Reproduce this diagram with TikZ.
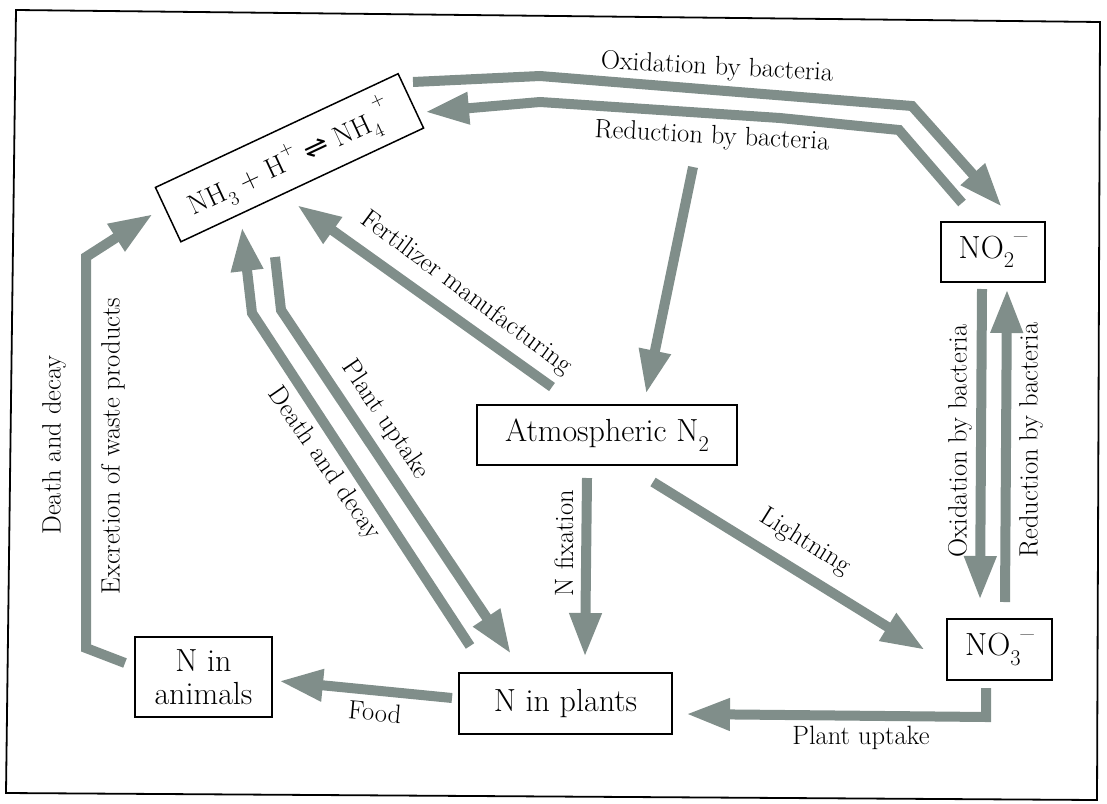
\documentclass[tikz,border=0pt]{standalone}
\usepackage{fontspec}
\newfontfamily\symfont{DejaVu Sans}
\usetikzlibrary{arrows.meta}
\definecolor{arrowc}{RGB}{128,142,138}
\newcommand{\chsub}[1]{\raisebox{-0.3em}{\scalebox{0.7}{#1}}}
\newcommand{\chsup}[1]{\raisebox{0.55em}{\scalebox{0.7}{#1}}}
\newcommand{\chminus}{\raisebox{0.42em}{\scalebox{0.9}{\textendash}}}
\tikzset{
  flow/.style={draw=arrowc, line width=10pt, -{Triangle[length=44pt,width=30pt]}, line join=miter},
  box/.style={draw=black, line width=1.5pt, inner sep=0pt, font=\fontsize{32}{33}\selectfont, align=center},
  lab/.style={font=\fontsize{26.5}{28}\selectfont, inner sep=0pt},
}
\begin{document}
\begin{tikzpicture}[x=1pt,y=-1pt]
\useasboundingbox (0,0) rectangle (1107,803);
% frame
\coordinate (f1) at (16,10);
\coordinate (f2) at (1100,22);
\coordinate (f3) at (1097,800);
\coordinate (f4) at (6,793);
\draw[line width=1.8pt] (f1) -- (f2) -- (f3) -- (f4) -- cycle;

% boxes
\node[box, minimum width=268pt, minimum height=60pt, rotate=25.1, font=\fontsize{28}{29}\selectfont] (nh) at (289.5,157.75) {NH\chsub{3} + H\chsup{+} \raisebox{0.05em}{\symfont\scalebox{1.05}[0.9]{⇌}} NH\chsub{4}\raisebox{0.75em}{\scalebox{0.7}{+}}};
\node[box, minimum width=104pt, minimum height=60pt] (no2) at (993,252) {NO\chsub{2}\chminus};
\node[box, minimum width=105pt, minimum height=61pt] (no3) at (999.5,649.5) {NO\chsub{3}\chminus};
\node[box, minimum width=260pt, minimum height=60pt] (atm) at (607,435) {Atmospheric N\chsub{2}};
\node[box, minimum width=137pt, minimum height=80pt] (ani) at (203.5,677) {N in\\animals};
\node[box, minimum width=213pt, minimum height=61pt] (pla) at (565.5,703.5) {N in plants};

% connector points
\coordinate (oxA) at (413,82);  \coordinate (oxB) at (540,76);  \coordinate (oxC) at (912,106); \coordinate (oxD) at (1002,207);
\coordinate (rdA) at (962,203); \coordinate (rdB) at (899,130); \coordinate (rdC) at (780,118); \coordinate (rdD) at (540,102); \coordinate (rdE) at (425,112);
\coordinate (dnA) at (693,167); \coordinate (dnB) at (646,394);
\coordinate (feA) at (552,387); \coordinate (feB) at (297,205);
\coordinate (exA) at (125,663); \coordinate (exB) at (86,648); \coordinate (exC) at (86,257); \coordinate (exD) at (153,214);
\coordinate (ddA) at (470,646); \coordinate (ddB) at (252,313); \coordinate (ddC) at (242,227);
\coordinate (puA) at (275,257); \coordinate (puB) at (281,310); \coordinate (puC) at (511,654);
\coordinate (nfA) at (587,478); \coordinate (nfB) at (585,657);
\coordinate (liA) at (653,482); \coordinate (liB) at (925,650);
\coordinate (obA) at (982,289); \coordinate (obB) at (980,600);
\coordinate (rbA) at (1005,602); \coordinate (rbB) at (1007,289);
\coordinate (ptA) at (986,688); \coordinate (ptB) at (986,717); \coordinate (ptC) at (686,714);
\coordinate (fdA) at (452,698); \coordinate (fdB) at (279,681);

% arrows
\draw[flow] (oxA) -- (oxB) -- (oxC) -- (oxD);
\draw[flow] (rdA) -- (rdB) -- (rdC) -- (rdD) -- (rdE);
\draw[flow] (dnA) -- (dnB);
\draw[flow] (feA) -- (feB);
\draw[flow] (exA) -- (exB) -- (exC) -- (exD);
\draw[flow] (ddA) -- (ddB) -- (ddC);
\draw[flow] (puA) -- (puB) -- (puC);
\draw[flow] (nfA) -- (nfB);
\draw[flow] (liA) -- (liB);
\draw[flow] (obA) -- (obB);
\draw[flow] (rbA) -- (rbB);
\draw[flow] (ptA) -- (ptB) -- (ptC);
\draw[flow] (fdA) -- (fdB);

% labels
\node[lab, rotate=-3] (l1) at (717,68) {Oxidation by bacteria};
\node[lab, rotate=-3] (l2) at (712,137) {Reduction by bacteria};
\node[lab, rotate=-36.5] (l3) at (466,293) {Fertilizer manufacturing};
\node[lab, rotate=90] (l4) at (54,445) {Death and decay};
\node[lab, rotate=90] (l5) at (113,446) {Excretion of waste products};
\node[lab, rotate=-55.5] (l6) at (324,464) {Death and decay};
\node[lab, rotate=-56] (l7) at (385,420) {Plant uptake};
\node[lab, rotate=90] (l8) at (564,543) {N fixation};
\node[lab, rotate=-32] (l9) at (805,542) {Lightning};
\node[lab, rotate=90] (l10) at (960,441) {Oxidation by bacteria};
\node[lab, rotate=90] (l11) at (1031,440) {Reduction by bacteria};
\node[lab] (l12) at (861,738) {Plant uptake};
\node[lab, rotate=-5] (l13) at (375,712) {Food};
\end{tikzpicture}
\end{document}
